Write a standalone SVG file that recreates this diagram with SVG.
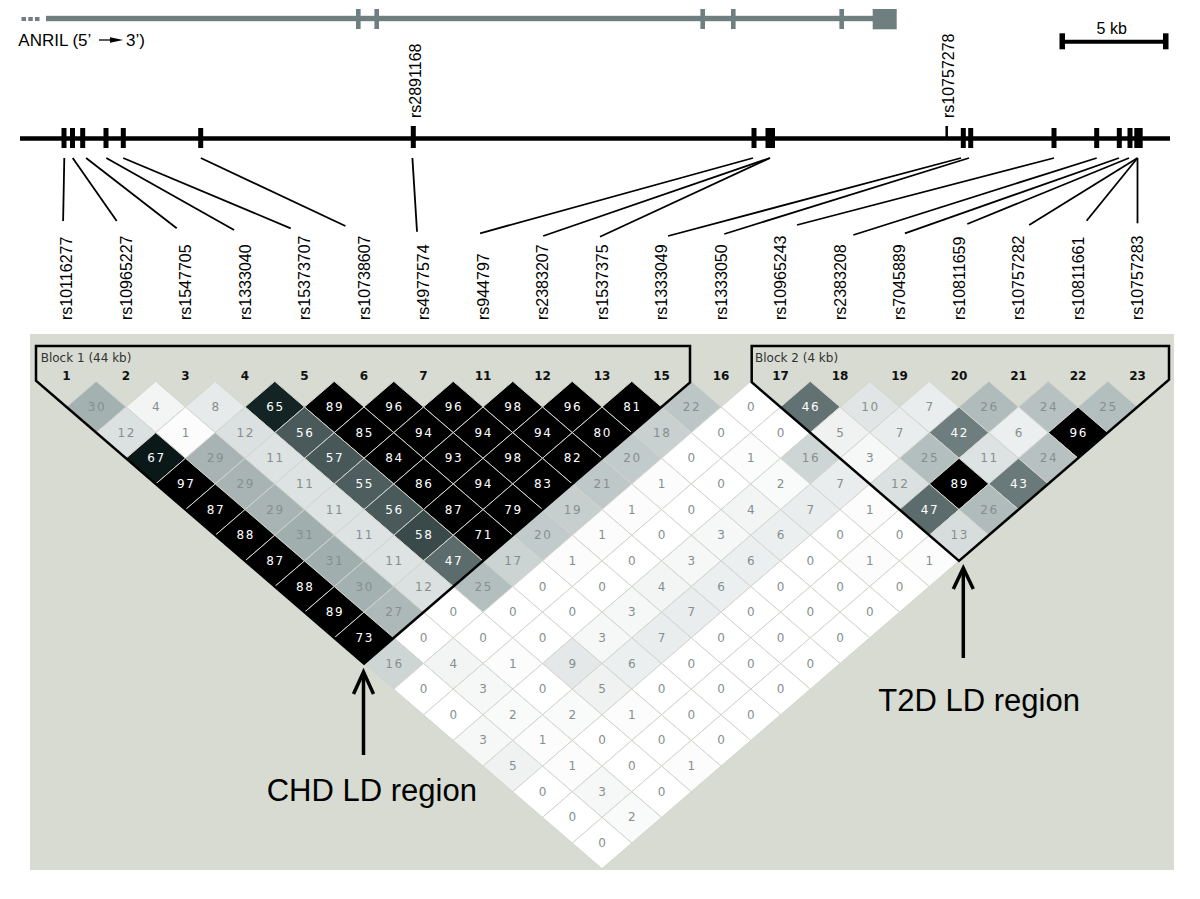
<svg xmlns="http://www.w3.org/2000/svg" width="1200" height="899" viewBox="0 0 1200 899">
<style>
.lbl{font-family:"Liberation Sans",Arial,sans-serif;font-size:16px;fill:#000}
.big{font-family:"Liberation Sans",Arial,sans-serif;font-size:31px;fill:#000}
.gene{fill:#6f7f7f;stroke:none}
.tick{fill:#000}
.conn line{stroke:#000;stroke-width:1.8}
.hdr{font-family:"DejaVu Sans",Verdana,sans-serif;font-size:12px;font-weight:bold;fill:#111;text-anchor:middle}
.blk{font-family:"DejaVu Sans",Verdana,sans-serif;font-size:12px;fill:#333}
.blkline{fill:none;stroke:#000;stroke-width:2.5;stroke-linejoin:miter}
.cells use{stroke:#d3d5cd;stroke-width:1}
.cells text{font-family:"DejaVu Sans",Verdana,sans-serif;font-size:12px;fill:#868f8f;text-anchor:middle;dominant-baseline:central;letter-spacing:1.5px}
.cells text.w{fill:#fff}
.arrow{fill:none;stroke:#000;stroke-width:3.5}
.v0{fill:#ffffff}.v1{fill:#fcfcfc}.v2{fill:#f9fafa}.v3{fill:#f6f7f7}.v4{fill:#f3f5f5}.v5{fill:#f0f2f2}.v6{fill:#ecefef}.v7{fill:#eaeded}.v8{fill:#e7eaea}.v9{fill:#e4e8e8}.v10{fill:#e1e5e5}.v11{fill:#dde2e2}.v12{fill:#dbe0e0}.v13{fill:#d7dddd}.v16{fill:#ced5d5}.v17{fill:#ccd3d3}.v18{fill:#c8d0d0}.v19{fill:#c6cece}.v20{fill:#c2cbcb}.v21{fill:#bfc8c8}.v22{fill:#bdc6c6}.v24{fill:#b7c1c1}.v25{fill:#b3bebe}.v26{fill:#b0bbbb}.v27{fill:#adb9b9}.v29{fill:#a8b4b4}.v30{fill:#a4b1b1}.v31{fill:#a1aeae}.v42{fill:#6e7e7e}.v43{fill:#6a7a7a}.v46{fill:#627272}.v47{fill:#5c6c6c}.v55{fill:#4e5e5e}.v56{fill:#4a5a5a}.v57{fill:#485858}.v58{fill:#3a4a4a}.v65{fill:#142424}.v67{fill:#0a1818}.k{fill:#000}
</style>
<defs>
<path id="dm" d="M0,-25.65 L29.75,0 L0,25.65 L-29.75,0 Z"/>
</defs>
<rect width="1200" height="899" fill="#fff"/>

<g id="anril">
<rect class="gene" x="21.5" y="17" width="4.5" height="4"/>
<rect class="gene" x="28.3" y="17" width="4.5" height="4"/>
<rect class="gene" x="35" y="17" width="4.5" height="4"/>
<rect class="gene" x="46" y="15.8" width="828" height="5.4"/>
<rect class="gene" x="356" y="9" width="4.6" height="20"/>
<rect class="gene" x="374.4" y="9" width="4.6" height="20"/>
<rect class="gene" x="700.4" y="9" width="4.6" height="20"/>
<rect class="gene" x="731" y="9" width="4.6" height="20"/>
<rect class="gene" x="839.4" y="9" width="4.6" height="20"/>
<rect class="gene" x="872.7" y="9" width="24" height="20.3"/>
<text class="lbl" x="18.3" y="45.7" style="font-size:17px">ANRIL (5’</text>
<line x1="99" y1="40" x2="112" y2="40" stroke="#000" stroke-width="1.3"/>
<polygon points="110,37.2 123.3,40 110,42.8" fill="#000"/>
<text class="lbl" x="126" y="45.7" style="font-size:17px">3’)</text>
</g>

<g id="scalebar">
<line x1="1062" y1="41.7" x2="1166" y2="41.7" stroke="#000" stroke-width="4"/>
<rect class="tick" x="1059.5" y="33.3" width="5.5" height="16"/>
<rect class="tick" x="1163" y="33.3" width="5.5" height="16"/>
<text class="lbl" x="1111.7" y="34.3" text-anchor="middle">5 kb</text>
</g>

<g id="snpline">
<line x1="20" y1="138.5" x2="1170" y2="138.5" stroke="#000" stroke-width="4.5"/>
<rect class="tick" x="61.5" y="128" width="5" height="20"/>
<rect class="tick" x="70" y="128" width="5" height="20"/>
<rect class="tick" x="80.2" y="128" width="5" height="20"/>
<rect class="tick" x="103.5" y="128" width="5" height="20"/>
<rect class="tick" x="120.8" y="128" width="5" height="20"/>
<rect class="tick" x="198.2" y="128" width="5" height="20"/>
<rect class="tick" x="410.8" y="126" width="5" height="22"/>
<rect class="tick" x="751.5" y="128" width="5" height="20"/>
<rect class="tick" x="765.5" y="128" width="9.5" height="20"/>
<line x1="946.7" y1="126" x2="946.7" y2="138" stroke="#000" stroke-width="2.5"/>
<rect class="tick" x="960.8" y="128" width="5" height="20"/>
<rect class="tick" x="968.2" y="128" width="5" height="20"/>
<rect class="tick" x="1051.5" y="128" width="5" height="20"/>
<rect class="tick" x="1094.2" y="128" width="5" height="20"/>
<rect class="tick" x="1116.8" y="128" width="5" height="20"/>
<rect class="tick" x="1127.5" y="128" width="5" height="20"/>
<rect class="tick" x="1134.3" y="128" width="8.4" height="20"/>
<text class="lbl" transform="translate(420.7,118) rotate(-90)">rs2891168</text>
<text class="lbl" transform="translate(954.4,118) rotate(-90)">rs10757278</text>
</g>

<g id="connectors" class="conn">
<line x1="64.3" y1="158" x2="63.1" y2="221"/>
<line x1="72.7" y1="158" x2="116.7" y2="221"/>
<line x1="86.1" y1="158" x2="176.7" y2="228.3"/>
<line x1="106.3" y1="158" x2="234.1" y2="230"/>
<line x1="123.2" y1="158" x2="290.7" y2="228.3"/>
<line x1="200.8" y1="158" x2="345.4" y2="226"/>
<line x1="412.4" y1="158" x2="417" y2="231.7"/>
<line x1="753" y1="158" x2="480.1" y2="233.3"/>
<line x1="770" y1="158" x2="543.2" y2="236"/>
<line x1="770" y1="158" x2="600" y2="236.7"/>
<line x1="961" y1="158" x2="668.1" y2="236"/>
<line x1="969" y1="158" x2="724.3" y2="234"/>
<line x1="1054" y1="158" x2="797" y2="225"/>
<line x1="1096.7" y1="158" x2="853.3" y2="235"/>
<line x1="1119" y1="158" x2="904.9" y2="233.3"/>
<line x1="1129" y1="158" x2="967.3" y2="224"/>
<line x1="1137.5" y1="158" x2="1029.2" y2="225"/>
<line x1="1137.5" y1="158" x2="1086.6" y2="220.7"/>
<line x1="1137.5" y1="158" x2="1137.5" y2="223.3"/>
</g>

<g id="snplabels" class="lbl">
<text transform="translate(72.2,320) rotate(-90)">rs10116277</text>
<text transform="translate(131.7,320) rotate(-90)">rs10965227</text>
<text transform="translate(191.2,320) rotate(-90)">rs1547705</text>
<text transform="translate(250.7,320) rotate(-90)">rs1333040</text>
<text transform="translate(310.2,320) rotate(-90)">rs15373707</text>
<text transform="translate(369.7,320) rotate(-90)">rs10738607</text>
<text transform="translate(429.2,320) rotate(-90)">rs4977574</text>
<text transform="translate(488.7,320) rotate(-90)">rs944797</text>
<text transform="translate(548.2,320) rotate(-90)">rs2383207</text>
<text transform="translate(607.7,320) rotate(-90)">rs1537375</text>
<text transform="translate(667.2,320) rotate(-90)">rs1333049</text>
<text transform="translate(726.7,320) rotate(-90)">rs1333050</text>
<text transform="translate(786.2,320) rotate(-90)">rs10965243</text>
<text transform="translate(845.7,320) rotate(-90)">rs2383208</text>
<text transform="translate(905.2,320) rotate(-90)">rs7045889</text>
<text transform="translate(964.7,320) rotate(-90)">rs10811659</text>
<text transform="translate(1024.2,320) rotate(-90)">rs10757282</text>
<text transform="translate(1083.7,320) rotate(-90)">rs10811661</text>
<text transform="translate(1143.2,320) rotate(-90)">rs10757283</text>
</g>

<g id="ldplot">
<rect x="30" y="334" width="1144" height="536" fill="#d7dbd1"/>
<g class="cells">
<g transform="translate(0,407)">
<use href="#dm" x="96.25" class="v30"/><text x="97">30</text>
<use href="#dm" x="155.75" class="v4"/><text x="156.5">4</text>
<use href="#dm" x="215.25" class="v8"/><text x="216">8</text>
<use href="#dm" x="274.75" class="v65"/><text x="275.5" class="w">65</text>
<use href="#dm" x="334.25" class="k"/><text x="335" class="w">89</text>
<use href="#dm" x="393.75" class="k"/><text x="394.5" class="w">96</text>
<use href="#dm" x="453.25" class="k"/><text x="454" class="w">96</text>
<use href="#dm" x="512.75" class="k"/><text x="513.5" class="w">98</text>
<use href="#dm" x="572.25" class="k"/><text x="573" class="w">96</text>
<use href="#dm" x="631.75" class="k"/><text x="632.5" class="w">81</text>
<use href="#dm" x="691.25" class="v22"/><text x="692">22</text>
<use href="#dm" x="750.75" class="v0"/><text x="751.5">0</text>
<use href="#dm" x="810.25" class="v46"/><text x="811" class="w">46</text>
<use href="#dm" x="869.75" class="v10"/><text x="870.5">10</text>
<use href="#dm" x="929.25" class="v7"/><text x="930">7</text>
<use href="#dm" x="988.75" class="v26"/><text x="989.5">26</text>
<use href="#dm" x="1048.25" class="v24"/><text x="1049">24</text>
<use href="#dm" x="1107.75" class="v25"/><text x="1108.5">25</text>
</g>
<g transform="translate(0,432.65)">
<use href="#dm" x="126" class="v12"/><text x="126.75">12</text>
<use href="#dm" x="185.5" class="v1"/><text x="186.25">1</text>
<use href="#dm" x="245" class="v12"/><text x="245.75">12</text>
<use href="#dm" x="304.5" class="v56"/><text x="305.25" class="w">56</text>
<use href="#dm" x="364" class="k"/><text x="364.75" class="w">85</text>
<use href="#dm" x="423.5" class="k"/><text x="424.25" class="w">94</text>
<use href="#dm" x="483" class="k"/><text x="483.75" class="w">94</text>
<use href="#dm" x="542.5" class="k"/><text x="543.25" class="w">94</text>
<use href="#dm" x="602" class="k"/><text x="602.75" class="w">80</text>
<use href="#dm" x="661.5" class="v18"/><text x="662.25">18</text>
<use href="#dm" x="721" class="v0"/><text x="721.75">0</text>
<use href="#dm" x="780.5" class="v0"/><text x="781.25">0</text>
<use href="#dm" x="840" class="v5"/><text x="840.75">5</text>
<use href="#dm" x="899.5" class="v7"/><text x="900.25">7</text>
<use href="#dm" x="959" class="v42"/><text x="959.75" class="w">42</text>
<use href="#dm" x="1018.5" class="v6"/><text x="1019.25">6</text>
<use href="#dm" x="1078" class="k"/><text x="1078.75" class="w">96</text>
</g>
<g transform="translate(0,458.3)">
<use href="#dm" x="155.75" class="v67"/><text x="156.5" class="w">67</text>
<use href="#dm" x="215.25" class="v29"/><text x="216">29</text>
<use href="#dm" x="274.75" class="v11"/><text x="275.5">11</text>
<use href="#dm" x="334.25" class="v57"/><text x="335" class="w">57</text>
<use href="#dm" x="393.75" class="k"/><text x="394.5" class="w">84</text>
<use href="#dm" x="453.25" class="k"/><text x="454" class="w">93</text>
<use href="#dm" x="512.75" class="k"/><text x="513.5" class="w">98</text>
<use href="#dm" x="572.25" class="k"/><text x="573" class="w">82</text>
<use href="#dm" x="631.75" class="v20"/><text x="632.5">20</text>
<use href="#dm" x="691.25" class="v0"/><text x="692">0</text>
<use href="#dm" x="750.75" class="v1"/><text x="751.5">1</text>
<use href="#dm" x="810.25" class="v16"/><text x="811">16</text>
<use href="#dm" x="869.75" class="v3"/><text x="870.5">3</text>
<use href="#dm" x="929.25" class="v25"/><text x="930">25</text>
<use href="#dm" x="988.75" class="v11"/><text x="989.5">11</text>
<use href="#dm" x="1048.25" class="v24"/><text x="1049">24</text>
</g>
<g transform="translate(0,483.95)">
<use href="#dm" x="185.5" class="k"/><text x="186.25" class="w">97</text>
<use href="#dm" x="245" class="v29"/><text x="245.75">29</text>
<use href="#dm" x="304.5" class="v11"/><text x="305.25">11</text>
<use href="#dm" x="364" class="v55"/><text x="364.75" class="w">55</text>
<use href="#dm" x="423.5" class="k"/><text x="424.25" class="w">86</text>
<use href="#dm" x="483" class="k"/><text x="483.75" class="w">94</text>
<use href="#dm" x="542.5" class="k"/><text x="543.25" class="w">83</text>
<use href="#dm" x="602" class="v21"/><text x="602.75">21</text>
<use href="#dm" x="661.5" class="v1"/><text x="662.25">1</text>
<use href="#dm" x="721" class="v0"/><text x="721.75">0</text>
<use href="#dm" x="780.5" class="v2"/><text x="781.25">2</text>
<use href="#dm" x="840" class="v7"/><text x="840.75">7</text>
<use href="#dm" x="899.5" class="v12"/><text x="900.25">12</text>
<use href="#dm" x="959" class="k"/><text x="959.75" class="w">89</text>
<use href="#dm" x="1018.5" class="v43"/><text x="1019.25" class="w">43</text>
</g>
<g transform="translate(0,509.6)">
<use href="#dm" x="215.25" class="k"/><text x="216" class="w">87</text>
<use href="#dm" x="274.75" class="v29"/><text x="275.5">29</text>
<use href="#dm" x="334.25" class="v11"/><text x="335">11</text>
<use href="#dm" x="393.75" class="v56"/><text x="394.5" class="w">56</text>
<use href="#dm" x="453.25" class="k"/><text x="454" class="w">87</text>
<use href="#dm" x="512.75" class="k"/><text x="513.5" class="w">79</text>
<use href="#dm" x="572.25" class="v19"/><text x="573">19</text>
<use href="#dm" x="631.75" class="v1"/><text x="632.5">1</text>
<use href="#dm" x="691.25" class="v0"/><text x="692">0</text>
<use href="#dm" x="750.75" class="v4"/><text x="751.5">4</text>
<use href="#dm" x="810.25" class="v7"/><text x="811">7</text>
<use href="#dm" x="869.75" class="v1"/><text x="870.5">1</text>
<use href="#dm" x="929.25" class="v47"/><text x="930" class="w">47</text>
<use href="#dm" x="988.75" class="v26"/><text x="989.5">26</text>
</g>
<g transform="translate(0,535.25)">
<use href="#dm" x="245" class="k"/><text x="245.75" class="w">88</text>
<use href="#dm" x="304.5" class="v31"/><text x="305.25">31</text>
<use href="#dm" x="364" class="v11"/><text x="364.75">11</text>
<use href="#dm" x="423.5" class="v58"/><text x="424.25" class="w">58</text>
<use href="#dm" x="483" class="k"/><text x="483.75" class="w">71</text>
<use href="#dm" x="542.5" class="v20"/><text x="543.25">20</text>
<use href="#dm" x="602" class="v1"/><text x="602.75">1</text>
<use href="#dm" x="661.5" class="v0"/><text x="662.25">0</text>
<use href="#dm" x="721" class="v3"/><text x="721.75">3</text>
<use href="#dm" x="780.5" class="v6"/><text x="781.25">6</text>
<use href="#dm" x="840" class="v0"/><text x="840.75">0</text>
<use href="#dm" x="899.5" class="v0"/><text x="900.25">0</text>
<use href="#dm" x="959" class="v13"/><text x="959.75">13</text>
</g>
<g transform="translate(0,560.9)">
<use href="#dm" x="274.75" class="k"/><text x="275.5" class="w">87</text>
<use href="#dm" x="334.25" class="v31"/><text x="335">31</text>
<use href="#dm" x="393.75" class="v11"/><text x="394.5">11</text>
<use href="#dm" x="453.25" class="v47"/><text x="454" class="w">47</text>
<use href="#dm" x="512.75" class="v17"/><text x="513.5">17</text>
<use href="#dm" x="572.25" class="v1"/><text x="573">1</text>
<use href="#dm" x="631.75" class="v0"/><text x="632.5">0</text>
<use href="#dm" x="691.25" class="v3"/><text x="692">3</text>
<use href="#dm" x="750.75" class="v6"/><text x="751.5">6</text>
<use href="#dm" x="810.25" class="v0"/><text x="811">0</text>
<use href="#dm" x="869.75" class="v1"/><text x="870.5">1</text>
<use href="#dm" x="929.25" class="v1"/><text x="930">1</text>
</g>
<g transform="translate(0,586.55)">
<use href="#dm" x="304.5" class="k"/><text x="305.25" class="w">88</text>
<use href="#dm" x="364" class="v30"/><text x="364.75">30</text>
<use href="#dm" x="423.5" class="v12"/><text x="424.25">12</text>
<use href="#dm" x="483" class="v25"/><text x="483.75">25</text>
<use href="#dm" x="542.5" class="v0"/><text x="543.25">0</text>
<use href="#dm" x="602" class="v0"/><text x="602.75">0</text>
<use href="#dm" x="661.5" class="v4"/><text x="662.25">4</text>
<use href="#dm" x="721" class="v6"/><text x="721.75">6</text>
<use href="#dm" x="780.5" class="v0"/><text x="781.25">0</text>
<use href="#dm" x="840" class="v0"/><text x="840.75">0</text>
<use href="#dm" x="899.5" class="v0"/><text x="900.25">0</text>
</g>
<g transform="translate(0,612.2)">
<use href="#dm" x="334.25" class="k"/><text x="335" class="w">89</text>
<use href="#dm" x="393.75" class="v27"/><text x="394.5">27</text>
<use href="#dm" x="453.25" class="v0"/><text x="454">0</text>
<use href="#dm" x="512.75" class="v0"/><text x="513.5">0</text>
<use href="#dm" x="572.25" class="v0"/><text x="573">0</text>
<use href="#dm" x="631.75" class="v3"/><text x="632.5">3</text>
<use href="#dm" x="691.25" class="v7"/><text x="692">7</text>
<use href="#dm" x="750.75" class="v0"/><text x="751.5">0</text>
<use href="#dm" x="810.25" class="v0"/><text x="811">0</text>
<use href="#dm" x="869.75" class="v0"/><text x="870.5">0</text>
</g>
<g transform="translate(0,637.85)">
<use href="#dm" x="364" class="k"/><text x="364.75" class="w">73</text>
<use href="#dm" x="423.5" class="v0"/><text x="424.25">0</text>
<use href="#dm" x="483" class="v0"/><text x="483.75">0</text>
<use href="#dm" x="542.5" class="v0"/><text x="543.25">0</text>
<use href="#dm" x="602" class="v3"/><text x="602.75">3</text>
<use href="#dm" x="661.5" class="v7"/><text x="662.25">7</text>
<use href="#dm" x="721" class="v0"/><text x="721.75">0</text>
<use href="#dm" x="780.5" class="v0"/><text x="781.25">0</text>
<use href="#dm" x="840" class="v0"/><text x="840.75">0</text>
</g>
<g transform="translate(0,663.5)">
<use href="#dm" x="393.75" class="v16"/><text x="394.5">16</text>
<use href="#dm" x="453.25" class="v4"/><text x="454">4</text>
<use href="#dm" x="512.75" class="v1"/><text x="513.5">1</text>
<use href="#dm" x="572.25" class="v9"/><text x="573">9</text>
<use href="#dm" x="631.75" class="v6"/><text x="632.5">6</text>
<use href="#dm" x="691.25" class="v0"/><text x="692">0</text>
<use href="#dm" x="750.75" class="v0"/><text x="751.5">0</text>
<use href="#dm" x="810.25" class="v0"/><text x="811">0</text>
</g>
<g transform="translate(0,689.15)">
<use href="#dm" x="423.5" class="v0"/><text x="424.25">0</text>
<use href="#dm" x="483" class="v3"/><text x="483.75">3</text>
<use href="#dm" x="542.5" class="v0"/><text x="543.25">0</text>
<use href="#dm" x="602" class="v5"/><text x="602.75">5</text>
<use href="#dm" x="661.5" class="v0"/><text x="662.25">0</text>
<use href="#dm" x="721" class="v0"/><text x="721.75">0</text>
<use href="#dm" x="780.5" class="v0"/><text x="781.25">0</text>
</g>
<g transform="translate(0,714.8)">
<use href="#dm" x="453.25" class="v0"/><text x="454">0</text>
<use href="#dm" x="512.75" class="v2"/><text x="513.5">2</text>
<use href="#dm" x="572.25" class="v2"/><text x="573">2</text>
<use href="#dm" x="631.75" class="v1"/><text x="632.5">1</text>
<use href="#dm" x="691.25" class="v0"/><text x="692">0</text>
<use href="#dm" x="750.75" class="v0"/><text x="751.5">0</text>
</g>
<g transform="translate(0,740.45)">
<use href="#dm" x="483" class="v3"/><text x="483.75">3</text>
<use href="#dm" x="542.5" class="v1"/><text x="543.25">1</text>
<use href="#dm" x="602" class="v0"/><text x="602.75">0</text>
<use href="#dm" x="661.5" class="v0"/><text x="662.25">0</text>
<use href="#dm" x="721" class="v0"/><text x="721.75">0</text>
</g>
<g transform="translate(0,766.1)">
<use href="#dm" x="512.75" class="v5"/><text x="513.5">5</text>
<use href="#dm" x="572.25" class="v1"/><text x="573">1</text>
<use href="#dm" x="631.75" class="v0"/><text x="632.5">0</text>
<use href="#dm" x="691.25" class="v1"/><text x="692">1</text>
</g>
<g transform="translate(0,791.75)">
<use href="#dm" x="542.5" class="v0"/><text x="543.25">0</text>
<use href="#dm" x="602" class="v3"/><text x="602.75">3</text>
<use href="#dm" x="661.5" class="v0"/><text x="662.25">0</text>
</g>
<g transform="translate(0,817.4)">
<use href="#dm" x="572.25" class="v0"/><text x="573">0</text>
<use href="#dm" x="631.75" class="v2"/><text x="632.5">2</text>
</g>
<g transform="translate(0,843.05)">
<use href="#dm" x="602" class="v0"/><text x="602.75">0</text>
</g>
</g>

<g id="block1">
<path class="blkline" d="M36,346 H690 V382.4 L364,663.5 L36,380.7 Z"/>
<text class="blk" x="40.7" y="362.3">Block 1 (44 kb)</text>
</g>
<g id="block2">
<path class="blkline" d="M751.7,346 H1169 V379.8 L959,560.9 L751.7,382.2 Z"/>
<text class="blk" x="755" y="362.3">Block 2 (4 kb)</text>
</g>

<g id="headers" class="hdr">
<text x="66.5" y="380">1</text>
<text x="126" y="380">2</text>
<text x="185.5" y="380">3</text>
<text x="245" y="380">4</text>
<text x="304.5" y="380">5</text>
<text x="364" y="380">6</text>
<text x="423.5" y="380">7</text>
<text x="483" y="380">11</text>
<text x="542.5" y="380">12</text>
<text x="602" y="380">13</text>
<text x="661.5" y="380">15</text>
<text x="721" y="380">16</text>
<text x="780.5" y="380">17</text>
<text x="840" y="380">18</text>
<text x="899.5" y="380">19</text>
<text x="959" y="380">20</text>
<text x="1018.5" y="380">21</text>
<text x="1078" y="380">22</text>
<text x="1137.5" y="380">23</text>
</g>
</g>

<g id="chd">
<line class="arrow" x1="363.5" y1="673" x2="363.5" y2="755"/>
<polyline class="arrow" points="353.5,694 363.5,672 373.5,694"/>
<text class="big" x="266.7" y="800.5">CHD LD region</text>
</g>
<g id="t2d">
<line class="arrow" x1="963.3" y1="569" x2="963.3" y2="658"/>
<polyline class="arrow" points="953.3,589 963.3,568 973.3,589"/>
<text class="big" x="878.3" y="711">T2D LD region</text>
</g>
</svg>
